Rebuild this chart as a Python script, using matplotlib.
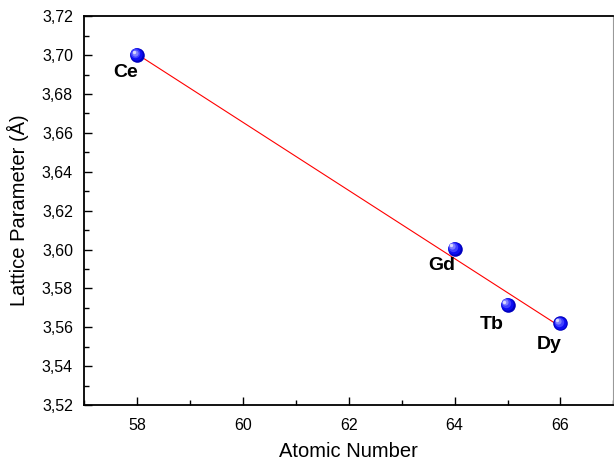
import numpy as np
import matplotlib
matplotlib.use("Agg")
import matplotlib.pyplot as plt
import matplotlib.transforms as mt
from matplotlib.ticker import MultipleLocator, FuncFormatter

plt.rcParams['font.family'] = ['Liberation Sans', 'DejaVu Sans']

elements = ["Ce", "Gd", "Tb", "Dy"]
atomic_number = [58, 64, 65, 66]
lattice = [3.700, 3.6005, 3.5715, 3.5620]
label_offsets = [(-8.5, -12.5), (-9.5, -12.5), (-11.2, -14), (-8.4, -15)]

fig = plt.figure(figsize=(6.14, 4.63), dpi=100)
ax = fig.add_axes([0.137, 0.125, 0.862, 0.840])

# linear fit line
coef = np.polyfit(atomic_number, lattice, 1)
xf = np.array([min(atomic_number), max(atomic_number)])
ax.plot(xf, np.polyval(coef, xf), color='red', lw=0.8, zorder=2)

# sphere-like markers: layered circles
layers = [(110, (0.0, 0.0, 0.75)), (80, (0.05, 0.05, 0.95)), (46, (0.25, 0.25, 1.0)),
          (20, (0.5, 0.5, 1.0)), (6, (0.85, 0.85, 1.0))]
x = np.array(atomic_number, dtype=float)
y = np.array(lattice)
for i, (s, c) in enumerate(layers):
    off = mt.offset_copy(ax.transData, fig=fig, x=-0.6 * i, y=0.6 * i, units='points')
    ax.scatter(x, y, s=s, color=c, zorder=3 + i, linewidths=0, transform=off)

for el, xi, yi, (dx, dy) in zip(elements, atomic_number, lattice, label_offsets):
    ax.annotate(el, (xi, yi), xytext=(dx, dy), textcoords='offset points',
                ha='center', va='center', fontsize=14, fontweight='bold')

ax.set_xlim(57, 67)
ax.set_ylim(3.52, 3.72)
ax.xaxis.set_major_locator(MultipleLocator(2))
ax.xaxis.set_minor_locator(MultipleLocator(1))
ax.yaxis.set_major_locator(MultipleLocator(0.02))
ax.yaxis.set_minor_locator(MultipleLocator(0.01))
ax.yaxis.set_major_formatter(FuncFormatter(lambda v, p: f"{v:.2f}".replace('.', ',')))
ax.tick_params(which='both', direction='in', top=False, right=False, labelsize=11.5, width=1)
ax.tick_params(which='major', length=6, pad=8)
ax.tick_params(axis='x', which='major', pad=9.5)
ax.tick_params(which='minor', length=3.5)
for sp in ax.spines.values():
    sp.set_linewidth(1.3)
ax.spines['right'].set_linewidth(0.8)
ax.spines['right'].set_color('#999999')

ax.set_xlabel("Atomic Number", fontsize=14.5, labelpad=6)
ax.set_ylabel("Lattice Parameter (Å)", fontsize=14.5, labelpad=9)

fig.savefig("out.png", dpi=100)
